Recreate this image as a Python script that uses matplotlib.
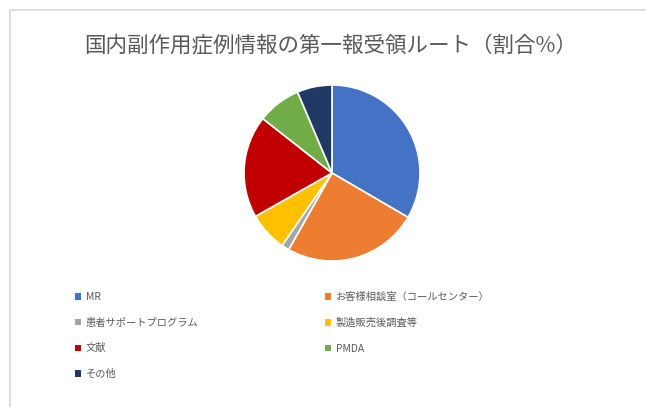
import matplotlib.pyplot as plt
from matplotlib.patches import Patch, Rectangle

plt.rcParams['font.family'] = ['Noto Sans CJK JP', 'DejaVu Sans']

title = '国内副作用症例情報の第一報受領ルート（割合%）'
routes = ['MR', 'お客様相談室（コールセンター）', '患者サポートプログラム',
          '製造販売後調査等', '文献', 'PMDA', 'その他']
shares = [33.4, 24.8, 1.4, 7.2, 18.8, 8.0, 6.4]
colors = ['#4472C4', '#ED7D31', '#A5A5A5', '#FFC000',
          '#C00000', '#70AD47', '#203864']

W, H = 646, 407
fig = plt.figure(figsize=(W / 100, H / 100), dpi=100)

# light frame of the chart area, running off the right and bottom edges
fig.patches.append(Rectangle((10 / W, -0.1), 1.2, 1 - 10 / H + 0.1,
                             transform=fig.transFigure, fill=False,
                             edgecolor='#D9D9D9', linewidth=1.2))

fig.text(331 / W, 1 - 46 / H, title, ha='center', va='center',
         fontsize=15.5, color='#595959')

cx, cy, r = 332, 173, 88
ax = fig.add_axes([(cx - r) / W, 1 - (cy + r) / H, 2 * r / W, 2 * r / H])
ax.pie(shares, colors=colors, startangle=90, counterclock=False,
       wedgeprops=dict(edgecolor='white', linewidth=1.2))
ax.set_xlim(-1, 1)
ax.set_ylim(-1, 1)
ax.set_aspect('equal')

handles = [Patch(facecolor=c, edgecolor='none') for c in colors]
order = [0, 2, 4, 6, 1, 3, 5]
fig.legend([handles[i] for i in order], [routes[i] for i in order],
           ncol=2, loc='upper left', bbox_to_anchor=(75 / W, 1 - 292 / H),
           frameon=False, fontsize=7.4, labelcolor='#595959',
           handlelength=0.55, handleheight=0.55, handletextpad=0.5,
           labelspacing=1.52, columnspacing=12.3, borderpad=0,
           borderaxespad=0)

fig.savefig('out.png', dpi=100)
